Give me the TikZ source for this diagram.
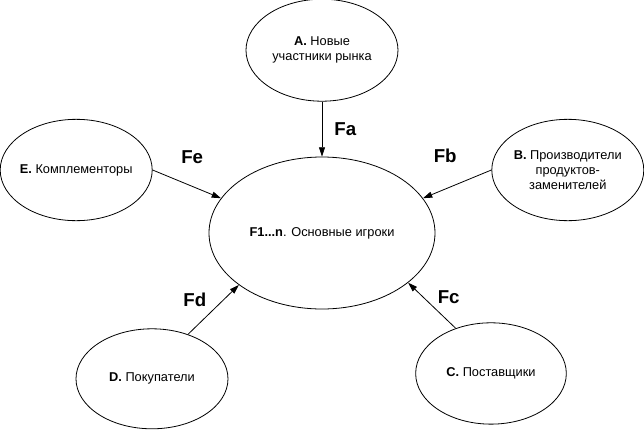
\documentclass[tikz,border=0pt]{standalone}
\usepackage{fontspec}
\setmainfont{Liberation Sans}
\usetikzlibrary{arrows.meta,positioning,shapes.geometric}

\tikzset{
  player/.style={ellipse, draw, align=center, inner sep=-4pt, font=\fontsize{9.6}{11.5}\selectfont},
  force/.style={font=\fontsize{14}{16}\selectfont\bfseries, inner sep=0pt},
}

\begin{document}
\begin{tikzpicture}[line width=0.6pt, >={Triangle[length=7pt,width=4.5pt]}]
      \useasboundingbox (-241.5pt,-147.75pt) rectangle (241.5pt,174.75pt);

      % Core
      \node[player, minimum width=169.5pt, minimum height=114pt] (main) {\textbf{F1...n}. Основные игроки};

      % New entrants
      \node[player, minimum width=114pt, minimum height=76.5pt, above=41.25pt of main] (entrants) {\textbf{A.} Новые\\участники рынка};

      % Substitutes
      \node[player, minimum width=114pt, minimum height=76pt, right=42pt of main, yshift=47.25pt] (substitutes) {\textbf{B.} Производители\\продуктов-\\заменителей};

      % Complementors
      \node[player, minimum width=114pt, minimum height=76pt, left=42pt of main, yshift=47.25pt] (complementors) {\textbf{E.} Комплементоры};

      % Buyers
      \node[player, minimum width=114pt, minimum height=75pt, below=14.25pt of main, xshift=-127.5pt] (buyers) {\textbf{D.} Покупатели};

      % Suppliers
      \node[player, minimum width=113pt, minimum height=76pt, below=9.75pt of main, xshift=126.75pt] (suppliers) {\textbf{C.} Поставщики};

      % Arrows
      \draw[->] (entrants) -- node[force, right=9pt] (fa) {Fa} (main);
      \draw[->] (complementors.east) -- node[force, xshift=4pt, yshift=20pt] (fe) {Fe} (main.161);
      \draw[->] (substitutes.west) -- node[force, xshift=-9pt, yshift=21pt] (fb) {Fb} (main.19);
      \draw[->] (buyers.51) -- node[force, xshift=-14pt, yshift=7.5pt] (fd) {Fd} (main.212);
      \draw[->] (suppliers.128) -- node[force, xshift=12.6pt, yshift=6pt] (fc) {Fc} (main.330);
    \end{tikzpicture}
\end{document}
